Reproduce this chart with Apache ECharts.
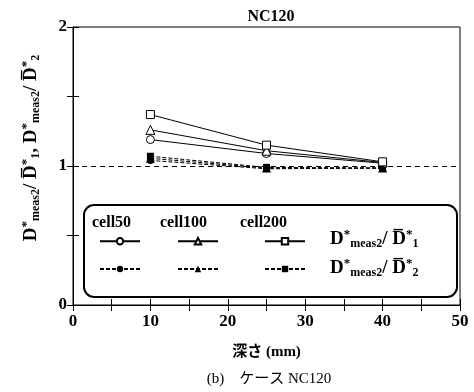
<!DOCTYPE html>
<html>
<head>
<meta charset="utf-8">
<script src="https://cdn.jsdelivr.net/npm/echarts@6/dist/echarts.min.js"></script>
<style>
  html, body { margin: 0; padding: 0; background: #fff; }
  #chart { width: 474px; height: 392px; }
</style>
</head>
<body>
<div id="chart"></div>
<script>
// depth (mm)
var depths = [10, 25, 40];
// D*meas2 / D1 (solid, open markers)
var cell50_d1 = [1.19, 1.09, 1.02];
var cell100_d1 = [1.26, 1.11, 1.025];
var cell200_d1 = [1.37, 1.15, 1.03];
// D*meas2 / D2 (dashed, filled markers)
var cell50_d2 = [1.04, 0.98, 0.985];
var cell100_d2 = [1.055, 0.985, 0.985];
var cell200_d2 = [1.07, 0.99, 0.985];
var cellNames = ["cell50", "cell100", "cell200"];
var xTicks = [0, 10, 20, 30, 40, 50];
var yTicks = [0, 1, 2];

var serif = "'Liberation Serif', 'Noto Sans CJK JP', serif";

function pairs(vals) {
  var out = [];
  for (var i = 0; i < depths.length; i++) {
    out.push([depths[i], vals[i]]);
  }
  return out;
}

var myChart = echarts.init(document.getElementById("chart"));

var symbols = ["circle", "triangle", "rect"];
var solidVals = [cell50_d1, cell100_d1, cell200_d1];
var dashVals = [cell50_d2, cell100_d2, cell200_d2];

var series = [];
for (var i = 0; i < 3; i++) {
  series.push({
    name: cellNames[i] + " d2",
    type: "line",
    data: pairs(dashVals[i]),
    symbol: symbols[i],
    symbolSize: i == 1 ? 9 : 7,
    lineStyle: { color: "#000", width: 1, type: [4, 2] },
    itemStyle: { color: "#000" },
    z: 2
  });
}
for (var i = 0; i < 3; i++) {
  series.push({
    name: cellNames[i] + " d1",
    type: "line",
    data: pairs(solidVals[i]),
    symbol: symbols[i],
    symbolSize: i == 1 ? 9 : 8,
    lineStyle: { color: "#000", width: 1 },
    itemStyle: { color: "#fff", borderColor: "#000", borderWidth: 1 },
    z: 3
  });
}
// reference line at 1
series[0].markLine = {
  silent: true,
  symbol: "none",
  label: { show: false },
  lineStyle: { color: "#000", width: 1, type: [5, 4] },
  data: [{ yAxis: 1 }]
};

// legend entries, one per symbol slot
var legendPos = [
  [99, 237], [177, 237], [264, 237],
  [99, 265], [177, 265], [264, 265]
];
var legendNames = [
  "cell50 d1", "cell100 d1", "cell200 d1",
  "cell50 d2", "cell100 d2", "cell200 d2"
];
var legends = [];
for (var k = 0; k < 6; k++) {
  legends.push({
    data: [legendNames[k]],
    left: legendPos[k][0],
    top: legendPos[k][1],
    z: 20,
    itemWidth: 40,
    itemHeight: 8,
    padding: 0,
    selectedMode: false,
    formatter: function () { return ""; },
    textStyle: { fontSize: 1 }
  });
}

var richFormula = {
  d: { fontFamily: serif, fontWeight: "bold", fontSize: 19, color: "#000" },
  sup: { fontFamily: serif, fontWeight: "bold", fontSize: 13, color: "#000", padding: [0, 0, 9, 0] },
  sub: { fontFamily: serif, fontWeight: "bold", fontSize: 12, color: "#000", padding: [9, 0, 0, 0] }
};

// ticks pointing into the plot
var tickIn = { inside: false, length: -6, lineStyle: { color: "#000" } };

// mirror axis on top / right: ticks only
function mirrorAxis(pos, max, step) {
  return {
    type: "value",
    position: pos,
    min: 0,
    max: max,
    interval: step,
    axisLine: { lineStyle: { color: "#000" } },
    axisTick: tickIn,
    axisLabel: { show: false },
    splitLine: { show: false }
  };
}

var option = {
  animation: false,
  backgroundColor: "#fff",
  title: [
    {
      text: "NC120",
      left: 266,
      top: 4,
      textAlign: "center",
      textStyle: { fontFamily: serif, fontWeight: "bold", fontSize: 16, color: "#000" }
    },
    {
      text: "(b)\u3000ケース NC120",
      left: 264,
      top: 367,
      textAlign: "center",
      textStyle: { fontFamily: serif, fontWeight: "normal", fontSize: 15, color: "#000" }
    }
  ],
  legend: legends,
  grid: {
    left: 73,
    right: 14,
    top: 27,
    bottom: 87,
    show: true,
    borderColor: "#000",
    borderWidth: 1
  },
  xAxis: [
    {
      type: "value",
      min: 0,
      max: 50,
      interval: 5,
      name: "深さ (mm)",
      nameLocation: "middle",
      nameGap: 40,
      nameTextStyle: { fontFamily: serif, fontWeight: "bold", fontSize: 15, color: "#000" },
      axisLine: { lineStyle: { color: "#000", width: 1 } },
      axisTick: tickIn,
      axisLabel: {
        margin: 8,
        fontFamily: serif, fontWeight: "bold", fontSize: 17, color: "#000",
        formatter: function (v) { return xTicks.indexOf(v) >= 0 ? String(v) : ""; }
      },
      splitLine: { show: false }
    },
    mirrorAxis("top", 50, 5)
  ],
  yAxis: [
    {
      type: "value",
      min: 0,
      max: 2,
      interval: 0.5,
      name: "{d|D}{sup|*}{sub|meas2}{d|/ D\u0305}{sup|*}{sub|1}{d|, D}{sup|*}{sub|meas2}{d|/ D\u0305}{sup|*}{sub|2}",
      nameLocation: "middle",
      nameRotate: 90,
      nameGap: 31,
      nameTextStyle: { rich: richFormula, padding: [0, 0, 0, 36] },
      axisLine: { lineStyle: { color: "#000", width: 1 } },
      axisTick: tickIn,
      axisLabel: {
        margin: 6,
        fontFamily: serif, fontWeight: "bold", fontSize: 17, color: "#000",
        formatter: function (v) { return yTicks.indexOf(v) >= 0 ? String(v) : ""; }
      },
      splitLine: { show: false }
    },
    mirrorAxis("right", 2, 0.5)
  ],
  graphic: [
    {
      type: "rect",
      shape: { x: 84, y: 205, width: 373, height: 92, r: 10 },
      style: { fill: "#fff", stroke: "#000", lineWidth: 2 },
      z: 10
    },
    {
      type: "text", left: 92, top: 215, z: 11,
      style: { text: "cell50", fontFamily: serif, fontWeight: "bold", fontSize: 16, fill: "#000" }
    },
    {
      type: "text", left: 160, top: 215, z: 11,
      style: { text: "cell100", fontFamily: serif, fontWeight: "bold", fontSize: 16, fill: "#000" }
    },
    {
      type: "text", left: 240, top: 215, z: 11,
      style: { text: "cell200", fontFamily: serif, fontWeight: "bold", fontSize: 16, fill: "#000" }
    },
    {
      type: "text", left: 330, top: 228, z: 11,
      style: {
        text: "{d|D}{sup|*}{sub|meas2}{d|/ D\u0305}{sup|*}{sub|1}",
        rich: richFormula
      }
    },
    {
      type: "text", left: 330, top: 257, z: 11,
      style: {
        text: "{d|D}{sup|*}{sub|meas2}{d|/ D\u0305}{sup|*}{sub|2}",
        rich: richFormula
      }
    }
  ],
  series: series
};

myChart.setOption(option);
</script>
</body>
</html>
